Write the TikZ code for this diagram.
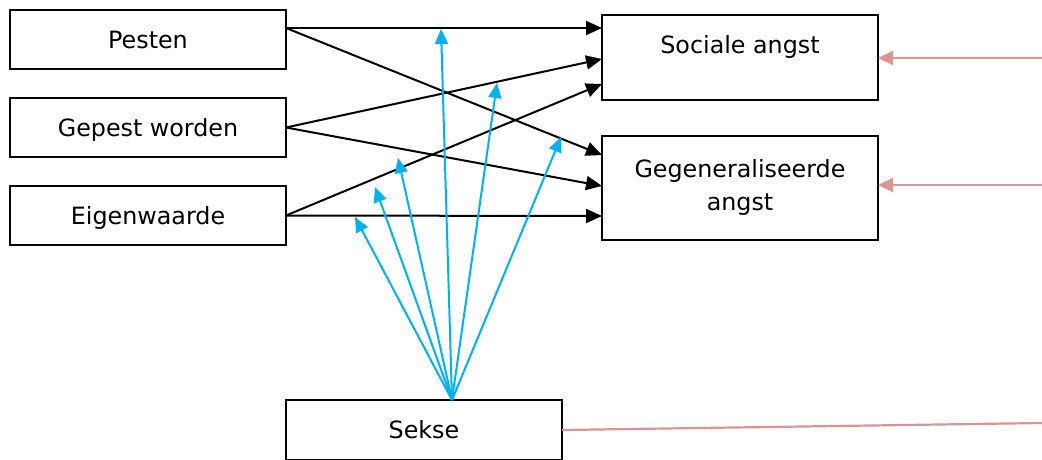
\documentclass[tikz,border=0pt]{standalone}
\usepackage{fontspec}
\setmainfont{DejaVu Sans}
\usetikzlibrary{positioning,arrows.meta}
\definecolor{modblue}{RGB}{0,176,240}
\definecolor{errred}{RGB}{217,149,148}
\begin{document}
\begin{tikzpicture}[x=1pt,y=-1pt,
  every node/.style={font=\fontsize{23.8}{33}\selectfont,outer sep=0pt},
  pred/.style={draw,line width=2pt,minimum width=276pt,minimum height=59pt,inner sep=0pt,text height=17pt,text depth=0pt},
  outc/.style={draw,line width=2pt,inner sep=0pt},
  effect/.style={line width=2pt,-{Triangle[length=16pt,width=14pt]}},
  moder/.style={modblue,line width=2pt,-{Triangle[length=15pt,width=13pt]}},
  resid/.style={errred,line width=2.2pt,-{Triangle[length=15pt,width=14pt]}}]
\useasboundingbox (0,0) rectangle (1042,459);
\node[pred,anchor=north west] (pesten) at (10,10) {Pesten};
\node[pred,below=29pt of pesten] (gepest) {Gepest worden};
\node[pred,below=29pt of gepest] (eigen) {Eigenwaarde};
\node[outc,anchor=north west] (soc) at (602,15) {\parbox[t][85pt][t]{276pt}{\centering\rule{0pt}{38pt}Sociale angst}};
\node[outc,anchor=north west] (gen) at (602,136) {\parbox[t][104pt][t]{276pt}{\centering\rule{0pt}{41pt}Gegeneraliseerde\\angst}};
\node[pred,minimum height=60pt,anchor=north west] (sekse) at (286,400) {Sekse};
\draw[effect] ([yshift=11.5pt]pesten.east) -- ([yshift=29.5pt]soc.west);
\draw[effect] ([yshift=11.5pt]pesten.east) -- ([yshift=33pt]gen.west);
\draw[effect] (gepest.east) -- ([yshift=-1.5pt]soc.west);
\draw[effect] (gepest.east) -- ([yshift=2pt]gen.west);
\draw[effect] (eigen.east) -- ([yshift=-26.5pt]soc.west);
\draw[effect] (eigen.east) -- ([yshift=-28pt]gen.west);
\coordinate (s) at ([xshift=28pt]sekse.north);
\coordinate (m1) at (441,29);
\coordinate (m2) at (497,83);
\coordinate (m3) at (561,137);
\coordinate (m4) at (398,158);
\coordinate (m5) at (375,187);
\coordinate (m6) at (355,217);
\foreach \m in {m1,m2,m3,m4,m5,m6}
  \draw[moder] (s) -- (\m);
\coordinate (e1) at (1042,58);
\coordinate (e2) at (1042,185);
\coordinate (e3) at (1042,423);
\draw[resid] (e1) -- (e1 -| soc.east);
\draw[resid] (e2) -- (e2 -| gen.east);
\draw[errred,line width=2.2pt] (sekse.east) -- (e3);
\end{tikzpicture}
\end{document}
